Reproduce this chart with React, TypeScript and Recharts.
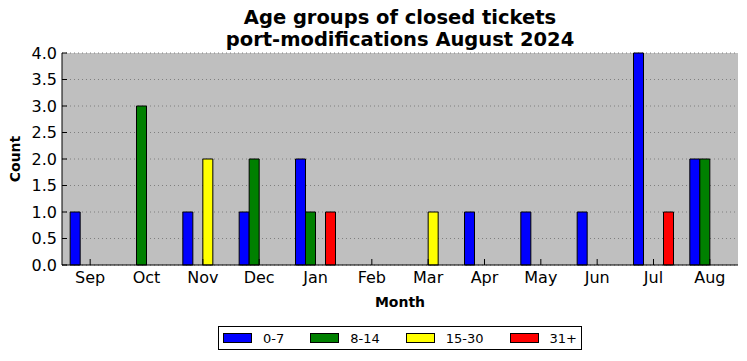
import { BarChart, Bar, XAxis, YAxis, CartesianGrid, Legend } from "recharts";

const months = ["Sep", "Oct", "Nov", "Dec", "Jan", "Feb", "Mar", "Apr", "May", "Jun", "Jul", "Aug"];
const age0to7 = [1, 0, 1, 1, 2, 0, 0, 1, 1, 1, 4, 2];
const age8to14 = [0, 3, 0, 2, 1, 0, 0, 0, 0, 0, 0, 2];
const age15to30 = [0, 0, 2, 0, 0, 0, 1, 0, 0, 0, 0, 0];
const age31plus = [0, 0, 0, 0, 1, 0, 0, 0, 0, 0, 1, 0];
const yTicks = [0, 0.5, 1, 1.5, 2, 2.5, 3, 3.5, 4];

const series = [
  { key: "a", name: "0-7", color: "#0000ff" },
  { key: "b", name: "8-14", color: "#008000" },
  { key: "c", name: "15-30", color: "#ffff00" },
  { key: "d", name: "31+", color: "#ff0000" },
];

const data = months.map((m, i) => ({
  month: m,
  a: age0to7[i],
  b: age8to14[i],
  c: age15to30[i],
  d: age31plus[i],
}));

const FONT = "'DejaVu Sans', sans-serif";
const noTick = () => <g />;

function LegendBox() {
  return (
    <div
      style={{
        display: "flex",
        alignItems: "center",
        height: "100%",
        paddingLeft: 4,
        fontSize: 13,
        fontFamily: FONT,
        color: "#000",
        whiteSpace: "nowrap",
      }}
    >
      {series.map((s) => (
        <div key={s.key} style={{ display: "flex", alignItems: "center", flexShrink: 0, marginRight: 26 }}>
          <span
            style={{
              display: "inline-block",
              width: 27,
              height: 8,
              background: s.color,
              border: "1px solid #000",
              marginRight: 11,
              flexShrink: 0,
            }}
          />
          <span>{s.name}</span>
        </div>
      ))}
    </div>
  );
}

export default function App() {
  return (
    <div style={{ position: "absolute", left: 0, top: 0, width: 747, height: 361, background: "#fff" }}>
      <div
        style={{
          position: "absolute",
          left: 62,
          width: 676,
          top: 7,
          textAlign: "center",
          fontFamily: FONT,
          fontWeight: "bold",
          fontSize: 19.5,
          lineHeight: "22px",
          color: "#000",
          whiteSpace: "nowrap",
        }}
      >
        Age groups of closed tickets
        <br />
        port-modifications August 2024
      </div>
      <BarChart
        width={747}
        height={361}
        data={data}
        margin={{ top: 53, right: 9, left: 0, bottom: 0 }}
        barCategoryGap="14.5%"
        barGap={0}
        style={{ fontFamily: FONT }}
      >
        <CartesianGrid vertical={false} fill="#bfbfbf" fillOpacity={1} stroke="#7f7f7f" strokeDasharray="1 3" />
        <XAxis
          dataKey="month"
          height={96}
          tickSize={-6}
          tickMargin={13}
          interval={0}
          tick={{ fill: "#000", fontSize: 16 }}
          axisLine={{ stroke: "#000" }}
          tickLine={{ stroke: "#000" }}
          label={{ value: "Month", position: "insideTop", offset: 32, fill: "#000", fontSize: 14, fontWeight: "bold" }}
        />
        <XAxis
          xAxisId="top"
          orientation="top"
          dataKey="month"
          height={0}
          tickSize={-6}
          interval={0}
          tick={noTick}
          axisLine={{ stroke: "#000" }}
          tickLine={{ stroke: "#000" }}
        />
        <YAxis
          width={62}
          domain={[0, 4]}
          ticks={yTicks}
          tickFormatter={(v) => Number(v).toFixed(1)}
          tickSize={-5}
          tickMargin={10}
          tick={{ fill: "#000", fontSize: 16 }}
          axisLine={{ stroke: "#000" }}
          tickLine={{ stroke: "#000" }}
          label={{
            value: "Count",
            angle: -90,
            position: "insideLeft",
            offset: 15,
            fill: "#000",
            fontSize: 14,
            fontWeight: "bold",
            style: { textAnchor: "middle" },
          }}
        />
        <YAxis
          yAxisId="right"
          orientation="right"
          width={0}
          domain={[0, 4]}
          ticks={yTicks}
          tickSize={-5}
          tick={noTick}
          axisLine={{ stroke: "#000" }}
          tickLine={{ stroke: "#000" }}
        />
        <Legend
          layout="horizontal"
          verticalAlign="middle"
          align="center"
          content={<LegendBox />}
          wrapperStyle={{
            top: 326,
            left: 218,
            width: 364,
            height: 24,
            border: "1px solid #000",
            boxSizing: "border-box",
            background: "#fff",
          }}
        />
        {series.map((s) => (
          <Bar
            key={s.key}
            dataKey={s.key}
            name={s.name}
            fill={s.color}
            stroke="#000"
            strokeWidth={1}
            isAnimationActive={false}
          />
        ))}
      </BarChart>
    </div>
  );
}
